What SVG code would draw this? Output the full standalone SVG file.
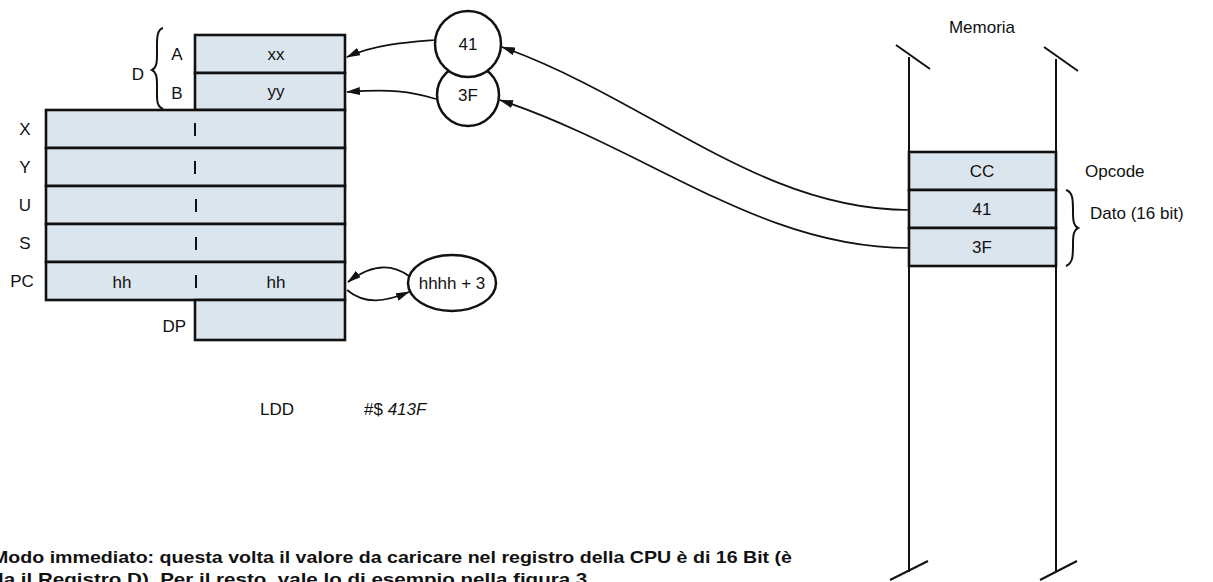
<svg xmlns="http://www.w3.org/2000/svg" width="1213" height="582" viewBox="0 0 1213 582">
<defs>
<marker id="ah" viewBox="0 0 14 8" refX="13" refY="4" markerWidth="14" markerHeight="8" markerUnits="userSpaceOnUse" orient="auto">
<path d="M0,0 L14,4 L0,8 z" fill="#111"/>
</marker>
<style>
.reg{fill:#dbe5ee;stroke:#111;stroke-width:2.6}
.t{font-family:"Liberation Sans",Arial,sans-serif;font-size:17px;fill:#111}
.c{text-anchor:middle}
.r{text-anchor:end}
.ln{fill:none;stroke:#111;stroke-width:2}
.tick{stroke:#111;stroke-width:2}
.conn{fill:none;stroke:#111;stroke-width:1.7;marker-end:url(#ah)}
.bub{fill:#fff;stroke:#111;stroke-width:2.5}
.cap{font-family:"Liberation Sans",Arial,sans-serif;font-size:17px;font-weight:bold;fill:#111}
</style>
</defs>
<rect width="1213" height="582" fill="#fff"/>

<!-- CPU registers -->
<g id="reg-A">
<rect class="reg" x="195" y="35" width="150" height="38"/>
<text class="t c" x="276" y="60">xx</text>
<text class="t c" x="177" y="60">A</text>
</g>
<g id="reg-B">
<rect class="reg" x="195" y="73" width="150" height="37"/>
<text class="t c" x="276" y="97">yy</text>
<text class="t c" x="177" y="99">B</text>
</g>
<g id="label-D">
<text class="t c" x="138" y="80">D</text>
<path class="ln" stroke-width="1.5" d="M163,28 C156,30 157,40 157,55 C157,64 156,68 152,70 C156,72 157,76 157,85 C157,100 156,106 163,109"/>
</g>
<g id="reg-X">
<rect class="reg" x="46" y="110" width="299" height="38"/>
<line class="tick" x1="195" y1="123" x2="195" y2="136"/>
<text class="t c" x="25" y="135">X</text>
</g>
<g id="reg-Y">
<rect class="reg" x="46" y="148" width="299" height="38"/>
<line class="tick" x1="195" y1="161" x2="195" y2="174"/>
<text class="t c" x="25" y="173">Y</text>
</g>
<g id="reg-U">
<rect class="reg" x="46" y="186" width="299" height="38"/>
<line class="tick" x1="196" y1="199" x2="196" y2="212"/>
<text class="t c" x="25" y="211">U</text>
</g>
<g id="reg-S">
<rect class="reg" x="46" y="224" width="299" height="38"/>
<line class="tick" x1="196" y1="237" x2="196" y2="250"/>
<text class="t c" x="25" y="249">S</text>
</g>
<g id="reg-PC">
<rect class="reg" x="46" y="262" width="299" height="38"/>
<line class="tick" x1="196" y1="275" x2="196" y2="288"/>
<text class="t c" x="22" y="287">PC</text>
<text class="t c" x="122" y="288">hh</text>
<text class="t c" x="276" y="288">hh</text>
</g>
<g id="reg-DP">
<rect class="reg" x="195" y="300" width="150" height="40"/>
<text class="t r" x="186" y="332">DP</text>
</g>

<!-- value bubbles -->
<g id="bubble-3F">
<circle class="bub" cx="468" cy="95" r="31"/>
<text class="t c" x="468" y="101">3F</text>
</g>
<g id="bubble-41">
<circle class="bub" cx="468" cy="44" r="33"/>
<text class="t c" x="468" y="50">41</text>
</g>
<g id="bubble-pc">
<ellipse class="bub" cx="452" cy="283" rx="44" ry="28"/>
<text class="t c" x="452" y="289">hhhh + 3</text>
</g>

<!-- memory -->
<g id="memoria">
<text class="t c" x="982" y="33" font-size="18">Memoria</text>
<line class="ln" x1="909" y1="57" x2="909" y2="572"/>
<line class="ln" x1="1056" y1="59" x2="1056" y2="572"/>
<line class="ln" x1="896" y1="45" x2="930" y2="69"/>
<line class="ln" x1="1044" y1="47" x2="1078" y2="71"/>
<line class="ln" x1="890" y1="580" x2="928" y2="561"/>
<line class="ln" x1="1040" y1="580" x2="1077" y2="561"/>
</g>
<g id="mem-CC">
<rect class="reg" x="909" y="152" width="147" height="38"/>
<text class="t c" x="982" y="177">CC</text>
<text class="t" x="1085" y="177">Opcode</text>
</g>
<g id="mem-41">
<rect class="reg" x="909" y="190" width="147" height="38"/>
<text class="t c" x="982" y="215">41</text>
</g>
<g id="mem-3F">
<rect class="reg" x="909" y="228" width="147" height="38"/>
<text class="t c" x="982" y="253">3F</text>
</g>
<g id="label-dato">
<path class="ln" stroke-width="1.5" d="M1066,190 C1073,192 1073,200 1073,212 C1073,222 1074,226 1078,228 C1074,230 1073,234 1073,244 C1073,256 1073,263 1066,266"/>
<text class="t" x="1090" y="219">Dato (16 bit)</text>
</g>

<!-- connectors -->
<g id="connectors">
<path class="conn" d="M435,40 C410,42 375,44 347,57"/>
<path class="conn" d="M436,99 C410,91 390,89 347,92"/>
<path class="conn" d="M909,210 C760,210 650,100 502,47"/>
<path class="conn" d="M909,248 C760,248 650,150 500,100"/>
<path class="conn" d="M409,276 C390,262 370,265 348,282"/>
<path class="conn" d="M347,290 C365,305 385,302 409,292"/>
</g>

<g id="instruction">
<text class="t" x="260" y="415">LDD</text>
<text class="t" x="364" y="415">#$ <tspan font-style="italic">413F</tspan></text>
</g>

<g id="caption">
<text class="cap" x="-8" y="563" textLength="800" lengthAdjust="spacingAndGlyphs">Modo immediato: questa volta il valore da caricare nel registro della CPU è di 16 Bit (è</text>
<text class="cap" x="-2" y="585" textLength="595" lengthAdjust="spacingAndGlyphs">la il Registro D). Per il resto, vale lo di esempio nella figura 3.</text>
</g>
</svg>
